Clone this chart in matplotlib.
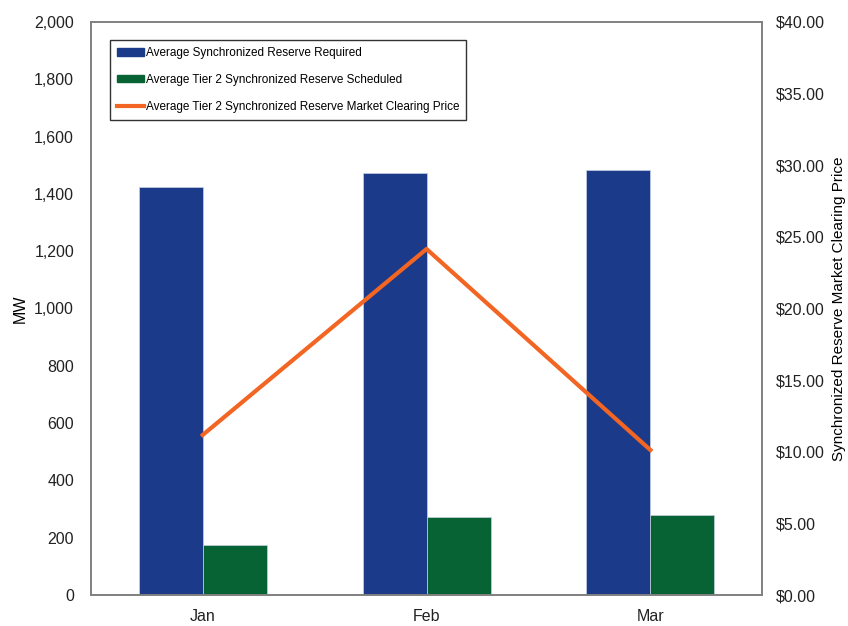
import matplotlib
matplotlib.use("Agg")
import matplotlib.pyplot as plt
import numpy as np
from matplotlib.lines import Line2D
from matplotlib.patches import Patch

plt.rcParams['font.family'] = ['Liberation Sans', 'DejaVu Sans']

months = ['Jan', 'Feb', 'Mar']
required_mw = [1424, 1473, 1483]
tier2_mw = [175, 272, 279]
clearing_price = [11.17, 24.15, 10.12]

blue = '#1b3a8a'
green = '#076333'
orange = '#f26522'
grey = '#808080'

fig = plt.figure(figsize=(8.48, 6.26), dpi=100)
ax = fig.add_axes([0.107, 0.0495, 0.792, 0.9155])
ax2 = ax.twinx()

x = np.arange(len(months))
w = 0.286
ax.bar(x - w / 2, required_mw, w, color=blue, edgecolor='#c8d0e4', linewidth=0.5)
ax.bar(x + w / 2, tier2_mw, w, color=green, edgecolor='#c8d0e4', linewidth=0.5)
ax2.plot(x, clearing_price, color=orange, lw=3)

ax.set_xlim(-0.5, 2.5)
ax.set_ylim(0, 2000)
ax.set_yticks(np.arange(0, 2001, 200))
ax.set_yticklabels([f'{v:,}' for v in range(0, 2001, 200)])
ax.set_xticks(x)
ax.set_xticklabels(months)
ax2.set_ylim(0, 40)
ax2.set_yticks(np.arange(0, 41, 5))
ax2.set_yticklabels([f'${v:.2f}' for v in range(0, 41, 5)])

for a in (ax, ax2):
    a.tick_params(length=0, labelsize=11.5, colors='#222222')
    for s in a.spines.values():
        s.set_color(grey)
        s.set_linewidth(1.2)
ax.tick_params(axis='y', pad=12)
ax.tick_params(axis='x', pad=10)
ax2.tick_params(axis='y', pad=9.5)

ax.set_ylabel('MW', fontsize=11.5)
ax.yaxis.set_label_coords(-0.094, 0.5)
ax2.set_ylabel('Synchronized Reserve Market Clearing Price', fontsize=11)
ax2.yaxis.set_label_coords(1.104, 0.5)

handles = [Patch(color=blue), Patch(color=green), Line2D([], [], color=orange, lw=3)]
labels = ['Average Synchronized Reserve Required',
          'Average Tier 2 Synchronized Reserve Scheduled',
          'Average Tier 2 Synchronized Reserve Market Clearing Price']
leg = ax.legend(handles, labels, loc='upper left', bbox_to_anchor=(0.0283, 0.9686),
                fontsize=8.5, frameon=True, fancybox=False, handlelength=2.3,
                handleheight=0.6, handletextpad=0.15, labelspacing=1.25,
                borderpad=0.6, borderaxespad=0)
leg.get_frame().set_edgecolor('black')
leg.get_frame().set_linewidth(1)

fig.savefig('out.png', dpi=100)
